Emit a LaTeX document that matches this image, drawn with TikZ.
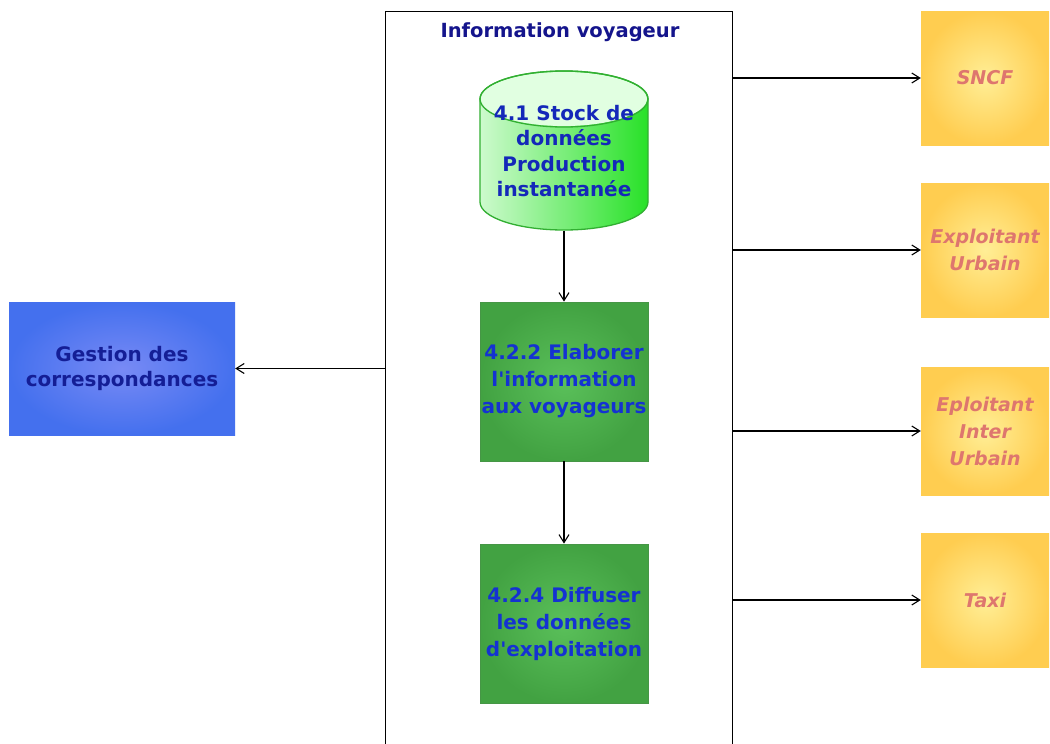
\documentclass[tikz,border=0pt]{standalone}
\usepackage{fontspec}
\setmainfont{DejaVu Sans}
\usetikzlibrary{arrows.meta}
\definecolor{titlecol}{RGB}{20,20,140}
\definecolor{gestcol}{RGB}{20,30,150}
\definecolor{greentxt}{RGB}{20,50,210}
\definecolor{cyltxt}{RGB}{20,40,185}
\definecolor{pinktxt}{RGB}{222,118,110}
\definecolor{blueIn}{RGB}{120,138,245}
\definecolor{blueOut}{RGB}{68,112,238}
\definecolor{greenIn}{RGB}{90,192,90}
\definecolor{greenOut}{RGB}{66,162,66}
\definecolor{greenBd}{RGB}{70,150,70}
\definecolor{yelIn}{RGB}{255,238,150}
\definecolor{yelOut}{RGB}{255,205,80}
\definecolor{cylL}{RGB}{205,250,205}
\definecolor{cylR}{RGB}{40,225,40}
\definecolor{cylTop}{RGB}{225,255,225}
\definecolor{cylBd}{RGB}{50,175,50}
\begin{document}
\begin{tikzpicture}[x=1pt,y=-1pt,
  arr/.style={draw=black, line width=1.2pt, -{Straight Barb[length=8pt,width=10pt,line width=1.1pt]}},
  greenbox/.style={shade, inner color=greenIn, outer color=greenOut, draw=greenBd, line width=0.8pt,
    minimum width=168pt, minimum height=159pt, align=center, text=greentxt,
    font=\fontsize{20}{27}\selectfont\bfseries, inner sep=0pt},
  yelbox/.style={shade, inner color=yelIn, outer color=yelOut, minimum width=128pt,
    align=center, text=pinktxt, font=\fontsize{19}{27}\selectfont\bfseries\itshape, inner sep=0pt},
  bluebox/.style={shade, inner color=blueIn, outer color=blueOut, minimum width=226pt,
    minimum height=133pt, align=center, text=gestcol, font=\fontsize{20}{25}\selectfont\bfseries, inner sep=0pt},
  cyltext/.style={align=center, text=cyltxt, font=\fontsize{20}{25.5}\selectfont\bfseries,
    minimum width=168pt, minimum height=159pt, inner sep=0pt}
]
\useasboundingbox (0,0) rectangle (1050,744);
\clip (0,0) rectangle (1050,744);
\fill[white] (0,0) rectangle (1050,744);

% container
\node[draw=black, line width=1.3pt, minimum width=347pt, minimum height=760pt, anchor=north west, inner sep=0pt] (cont) at (385,11) {};
\node[text=titlecol, font=\fontsize{19.5}{23}\selectfont\bfseries] (title) at (560,32) {Information voyageur};

% cylinder graphics
\path[shade, left color=cylL, right color=cylR, draw=cylBd, line width=1.3pt]
  (480,99) -- (480,202) arc[start angle=180, end angle=0, x radius=84, y radius=28]
  -- (648,99) arc[start angle=0, end angle=-180, x radius=84, y radius=28] -- cycle;
\fill[cylTop] (564,99) ellipse[x radius=83, y radius=27];
\draw[cylBd, line width=1.3pt] (564,99) ellipse[x radius=84, y radius=28];
\node[cyltext] (cyl) at (564,151) {\raisebox{-3pt}{\parbox{168pt}{\centering 4.1 Stock de\\données\\Production\\instantanée}}};

% green process boxes
\node[greenbox] (b422) at (564,381.5) {4.2.2 Elaborer\\l\textquotesingle information\\aux voyageurs};
\node[greenbox] (b424) at (564,623.5) {4.2.4 Diffuser\\les données\\d\textquotesingle exploitation};

% blue box
\node[bluebox] (ges) at (122,368.5) {Gestion des\\correspondances};

% yellow boxes
\node[yelbox, minimum height=134pt] (sncf) at (985,78) {SNCF};
\node[yelbox, minimum height=134pt] (expu) at (985,250) {Exploitant\\Urbain};
\node[yelbox, minimum height=128pt] (expiu) at (985,431) {Eploitant\\Inter\\Urbain};
\node[yelbox, minimum height=134pt] (taxi) at (985,600) {Taxi};

% connectors
\draw[arr] (cyl.south) -- (b422.north);
\draw[arr] (b422.south) -- (b424.north);
\draw[arr] (cont.west |- ges.east) -- (ges.east);
\draw[arr] (cont.east |- sncf.west) -- (sncf.west);
\draw[arr] (cont.east |- expu.west) -- (expu.west);
\draw[arr] (cont.east |- expiu.west) -- (expiu.west);
\draw[arr] (cont.east |- taxi.west) -- (taxi.west);
\end{tikzpicture}
\end{document}
